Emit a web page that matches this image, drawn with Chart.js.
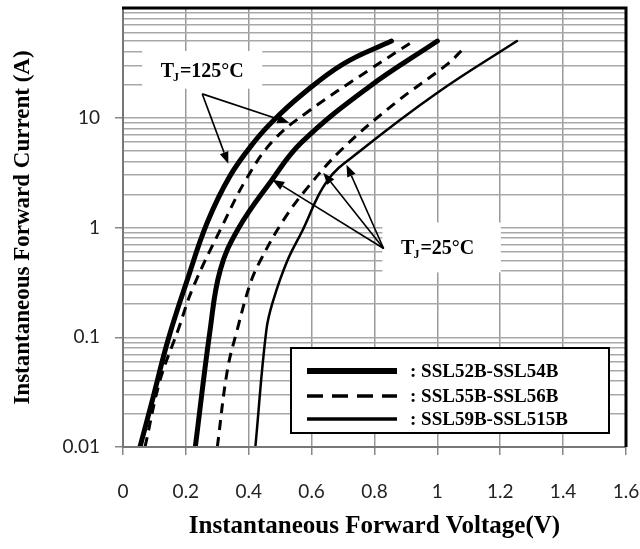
<!DOCTYPE html>
<html><head><meta charset="utf-8">
<script src="https://cdn.jsdelivr.net/npm/chart.js@4/dist/chart.umd.min.js"></script>
<style>html,body{margin:0;padding:0;background:#fff;}#wrap{width:640px;height:549px;}</style>
</head><body><div id="wrap"><canvas id="c" width="640" height="549"></canvas></div>
<script>
// ---- data ----
const xTickValues = [0, 0.2, 0.4, 0.6, 0.8, 1, 1.2, 1.4, 1.6];
const xTickLabels = ['0', '0.2', '0.4', '0.6', '0.8', '1', '1.2', '1.4', '1.6'];
const yTickLabels = ['0.01', '0.1', '1', '10'];
const legendNames = [': SSL52B-SSL54B', ': SSL55B-SSL56B', ': SSL59B-SSL515B'];
const xTitle = 'Instantaneous Forward Voltage(V)';
const yTitle = 'Instantaneous Forward Current (A)';

// SSL52B-SSL54B, Tj=125C
const v52hot = [0.054, 0.096, 0.143, 0.204, 0.268, 0.341, 0.421, 0.478, 0.564, 0.701, 0.854];
const i52hot = [0.01, 0.0285, 0.094, 0.33, 1.11, 2.97, 6.2, 9.4, 15.8, 31, 50];
// SSL55B-SSL56B, Tj=125C
const v55hot = [0.070, 0.118, 0.175, 0.223, 0.316, 0.395, 0.478, 0.587, 0.778, 0.924];
const i55hot = [0.01, 0.0406, 0.116, 0.285, 1.04, 2.85, 6.2, 11.3, 26.7, 50];
// SSL52B-SSL54B, Tj=25C
const v52cold = [0.230, 0.277, 0.309, 0.367, 0.472, 0.567, 0.778, 1.0];
const i52cold = [0.01, 0.116, 0.406, 0.98, 2.67, 5.93, 18.7, 50];
// SSL55B-SSL56B, Tj=25C
const v55cold = [0.300, 0.332, 0.363, 0.405, 0.437, 0.51, 0.587, 0.698, 0.867, 1.033, 1.084];
const i55cold = [0.01, 0.05, 0.116, 0.31, 0.5, 1.16, 2.31, 5.22, 13.7, 31, 43];
// SSL59B-SSL515B, Tj=25C
const v59cold = [0.421, 0.456, 0.478, 0.523, 0.571, 0.650, 0.755, 1.0, 1.253];
const i59cold = [0.01, 0.116, 0.217, 0.5, 0.94, 2.67, 5.0, 16.9, 50];

// annotations (data coordinates)
const tj125Text = ['T', 'J', '=125\u00B0C'];
const tj25Text = ['T', 'J', '=25\u00B0C'];
const tj125Box = {x1: 0.061, x2: 0.443, yTop: 40.6, yBot: 18.4, cx: 0.252, cy: 26.2};
const tj25Box = {x1: 0.825, x2: 1.202, yTop: 1.11, yBot: 0.39, cx: 1.001, cy: 0.644};
const arrows125 = {from: [0.252, 16.5], to: [[0.529, 9.0], [0.335, 3.8]]};
const arrows25 = {from: [0.829, 0.644], to: [[0.475, 2.73], [0.637, 3.16], [0.711, 3.74]]};

const pts = (v, i) => v.map((x, k) => ({x: x, y: i[k]}));

// y grid ticks: mantissas 1..9 per decade from 0.01 to 100
const yGrid = [];
[0.01, 0.1, 1, 10].forEach(d => { for (let m = 1; m <= 9; m++) yGrid.push(+(m * d).toPrecision(3)); });
yGrid.push(100);
const isDecade = v => Math.abs(Math.log10(v) - Math.round(Math.log10(v))) < 1e-9;

const common = {pointRadius: 0, showLine: true, fill: false, borderColor: '#000', tension: 0.4, borderCapStyle: 'round'};

const serif = "'Liberation Serif', 'Times New Roman', serif";

function drawArrow(ctx, x0, y0, x1, y1) {
  const ang = Math.atan2(y1 - y0, x1 - x0);
  const L = 12, W = 4.5;
  const bx = x1 - L * Math.cos(ang), by = y1 - L * Math.sin(ang);
  ctx.beginPath(); ctx.moveTo(x0, y0); ctx.lineTo(bx, by); ctx.stroke();
  ctx.beginPath();
  ctx.moveTo(x1, y1);
  ctx.lineTo(bx + W * Math.sin(ang), by - W * Math.cos(ang));
  ctx.lineTo(bx - W * Math.sin(ang), by + W * Math.cos(ang));
  ctx.closePath(); ctx.fill();
}

function drawTj(ctx, parts, cx, cy) {
  const big = 'bold 20px ' + serif, small = 'bold 12px ' + serif;
  ctx.font = big; const w0 = ctx.measureText(parts[0]).width, w2 = ctx.measureText(parts[2]).width;
  ctx.font = small; const w1 = ctx.measureText(parts[1]).width;
  let x = cx - (w0 + w1 + w2) / 2;
  ctx.textBaseline = 'middle'; ctx.textAlign = 'left'; ctx.fillStyle = '#000';
  ctx.font = big; ctx.fillText(parts[0], x, cy); x += w0;
  ctx.font = small; ctx.fillText(parts[1], x - 1, cy + 6); x += w1;
  ctx.font = big; ctx.fillText(parts[2], x, cy);
}

const boxesPlugin = {
  id: 'boxes',
  beforeDatasetsDraw(chart) {
    const {ctx, scales: {x, y}} = chart;
    ctx.save(); ctx.fillStyle = '#fff';
    [tj125Box, tj25Box].forEach(b => {
      const l = x.getPixelForValue(b.x1), r = x.getPixelForValue(b.x2);
      const t = y.getPixelForValue(b.yTop), bt = y.getPixelForValue(b.yBot);
      ctx.fillRect(l, t, r - l, bt - t);
    });
    ctx.restore();
  },
  afterDatasetsDraw(chart) {
    const {ctx, chartArea: a, scales: {x, y}} = chart;
    ctx.save();
    // plot borders
    ctx.strokeStyle = '#777'; ctx.lineWidth = 2;
    ctx.beginPath(); ctx.moveTo(a.left, a.top); ctx.lineTo(a.left, a.bottom); ctx.lineTo(a.right, a.bottom); ctx.stroke();
    ctx.strokeStyle = '#000'; ctx.lineWidth = 3;
    ctx.beginPath(); ctx.moveTo(a.left - 1, a.top); ctx.lineTo(a.right, a.top); ctx.lineTo(a.right, a.bottom); ctx.stroke();
    // labels
    drawTj(ctx, tj125Text, x.getPixelForValue(tj125Box.cx), y.getPixelForValue(tj125Box.cy));
    drawTj(ctx, tj25Text, x.getPixelForValue(tj25Box.cx), y.getPixelForValue(tj25Box.cy));
    // arrows
    ctx.strokeStyle = '#000'; ctx.fillStyle = '#000'; ctx.lineWidth = 1.6;
    [arrows125, arrows25].forEach(g => {
      const fx = x.getPixelForValue(g.from[0]), fy = y.getPixelForValue(g.from[1]);
      g.to.forEach(t => drawArrow(ctx, fx, fy, x.getPixelForValue(t[0]), y.getPixelForValue(t[1])));
    });
    // legend
    const x0 = a.left + 168, y0 = a.top + 340, w = 318, h = 85;
    ctx.fillStyle = '#fff'; ctx.fillRect(x0, y0, w, h);
    ctx.lineWidth = 2; ctx.strokeStyle = '#000'; ctx.strokeRect(x0, y0, w, h);
    const rows = [{dy: 23, lw: 6, dash: []}, {dy: 48, lw: 3.5, dash: [16, 9]}, {dy: 71, lw: 3.5, dash: []}];
    ctx.font = 'bold 19px ' + serif; ctx.textBaseline = 'middle'; ctx.textAlign = 'left'; ctx.fillStyle = '#000';
    rows.forEach((r, k) => {
      ctx.lineWidth = r.lw; ctx.setLineDash(r.dash);
      ctx.beginPath(); ctx.moveTo(x0 + 16, y0 + r.dy); ctx.lineTo(x0 + 106, y0 + r.dy); ctx.stroke();
      ctx.setLineDash([]);
      ctx.fillText(legendNames[k], x0 + 119, y0 + r.dy + 1);
    });
    ctx.restore();
  }
};

new Chart(document.getElementById('c'), {
  type: 'scatter',
  data: {
    datasets: [
      Object.assign({data: pts(v52hot, i52hot), borderWidth: 5}, common),
      Object.assign({data: pts(v55hot, i55hot), borderWidth: 3, borderDash: [10, 7]}, common, {borderCapStyle: 'butt'}),
      Object.assign({data: pts(v52cold, i52cold), borderWidth: 5}, common),
      Object.assign({data: pts(v55cold, i55cold), borderWidth: 3, borderDash: [10, 7]}, common, {borderCapStyle: 'butt'}),
      Object.assign({data: pts(v59cold, i59cold), borderWidth: 2.5}, common)
    ]
  },
  options: {
    responsive: false, animation: false, devicePixelRatio: 1,
    layout: {padding: {top: 8, right: 14, left: 0, bottom: 0}},
    plugins: {legend: {display: false}, tooltip: {enabled: false}},
    scales: {
      x: {
        type: 'linear', min: 0, max: 1.6,
        afterBuildTicks: s => { s.ticks = xTickValues.map(v => ({value: v})); },
        afterFit: s => { s.height = 102; s.paddingLeft = 0; s.paddingRight = 0; },
        border: {display: false},
        grid: {color: '#9a9a9a', lineWidth: 1.5, tickLength: 8, tickColor: '#888'},
        ticks: {
          padding: 25, color: '#222', font: {family: 'Lato', size: 19},
          callback: (v) => { const k = xTickValues.indexOf(v); return k >= 0 ? xTickLabels[k] : ''; }
        },
        title: {display: true, text: xTitle, color: '#000', font: {family: serif, size: 25, weight: 'bold'}, padding: {top: 0, bottom: 7}}
      },
      y: {
        type: 'logarithmic', min: 0.01, max: 100,
        afterBuildTicks: s => { s.ticks = yGrid.map(v => ({value: v})); },
        afterFit: s => { s.width = 123; s.paddingTop = 0; s.paddingBottom = 0; },
        border: {display: false},
        grid: {
          color: '#a8a8a8', lineWidth: 1.5, tickLength: 8,
          tickColor: c => (c.tick && isDecade(c.tick.value) && c.tick.value < 100) ? '#888' : 'rgba(0,0,0,0)'
        },
        ticks: {
          padding: 15, color: '#222', font: {family: 'Lato', size: 19, lineHeight: 0.8}, autoSkip: false,
          callback: (v) => {
            if (!isDecade(v) || v >= 100) return '';
            const k = Math.round(Math.log10(v)) + 2;
            return yTickLabels[k];
          }
        },
        title: {display: true, text: yTitle, color: '#000', font: {family: serif, size: 23, weight: 'bold'}, padding: {top: 9, bottom: 0}}
      }
    }
  },
  plugins: [boxesPlugin]
});
</script></body></html>
